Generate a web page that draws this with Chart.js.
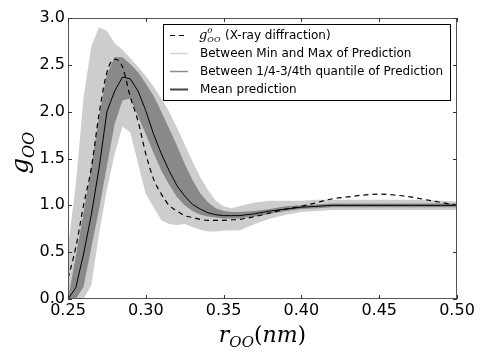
<!DOCTYPE html>
<html>
<head>
<meta charset="utf-8">
<script src="https://cdn.jsdelivr.net/npm/chart.js@4.4.0/dist/chart.umd.min.js"></script>
<style>
html, body { margin: 0; padding: 0; background: #fff; }
</style>
</head>
<body>
<canvas id="myChart" width="485" height="363"></canvas>
<script>
// r_OO in nm
const rValues = [0.25, 0.255, 0.26, 0.265, 0.27, 0.275, 0.28, 0.285, 0.29, 0.295, 0.30, 0.305, 0.31, 0.315, 0.32, 0.325, 0.33, 0.335, 0.34, 0.345, 0.35, 0.355, 0.36, 0.37, 0.38, 0.39, 0.40, 0.41, 0.42, 0.43, 0.44, 0.45, 0.46, 0.47, 0.48, 0.49, 0.50]

const xrayValues = [0.22, 0.55, 1.00, 1.40, 1.98, 2.42, 2.56, 2.48, 2.16, 1.90, 1.55, 1.28, 1.12, 1.00, 0.94, 0.89, 0.87, 0.85, 0.84, 0.84, 0.84, 0.845, 0.85, 0.88, 0.92, 0.96, 0.99, 1.03, 1.07, 1.09, 1.11, 1.12, 1.11, 1.09, 1.06, 1.03, 1.00]
const meanValues = [0.00, 0.12, 0.48, 0.90, 1.40, 2.00, 2.22, 2.37, 2.35, 2.22, 2.01, 1.76, 1.55, 1.37, 1.21, 1.10, 1.01, 0.96, 0.92, 0.90, 0.89, 0.89, 0.89, 0.91, 0.94, 0.96, 0.98, 0.99, 1.00, 1.00, 1.00, 1.00, 1.00, 1.00, 1.00, 1.00, 1.00]
const q1Values = [0.00, 0.00, 0.13, 0.55, 0.96, 1.42, 1.87, 2.12, 2.14, 1.95, 1.76, 1.56, 1.37, 1.22, 1.09, 1.00, 0.94, 0.90, 0.88, 0.87, 0.86, 0.86, 0.86, 0.88, 0.91, 0.94, 0.96, 0.97, 0.98, 0.98, 0.98, 0.98, 0.98, 0.98, 0.98, 0.98, 0.98]
const q3Values = [0.00, 0.45, 0.92, 1.40, 1.95, 2.40, 2.58, 2.58, 2.51, 2.42, 2.30, 2.17, 2.00, 1.82, 1.64, 1.44, 1.27, 1.13, 1.03, 0.97, 0.94, 0.93, 0.93, 0.94, 0.96, 0.99, 1.00, 1.01, 1.02, 1.02, 1.02, 1.02, 1.02, 1.02, 1.02, 1.02, 1.02]
const minValues = [0.00, 0.00, 0.00, 0.15, 0.70, 1.17, 1.55, 1.84, 1.78, 1.45, 1.12, 0.98, 0.84, 0.80, 0.79, 0.80, 0.77, 0.74, 0.72, 0.72, 0.73, 0.73, 0.73, 0.80, 0.86, 0.90, 0.93, 0.94, 0.95, 0.95, 0.95, 0.95, 0.95, 0.95, 0.95, 0.95, 0.95]
const maxValues = [0.55, 1.22, 2.15, 2.70, 2.90, 2.86, 2.73, 2.66, 2.57, 2.48, 2.38, 2.27, 2.14, 2.00, 1.83, 1.65, 1.47, 1.30, 1.16, 1.05, 0.99, 0.97, 0.99, 1.03, 1.05, 1.05, 1.05, 1.06, 1.06, 1.06, 1.06, 1.06, 1.06, 1.06, 1.06, 1.05, 1.04]

const xTicks = [0.25, 0.30, 0.35, 0.40, 0.45, 0.50]
const yTicks = [0.0, 0.5, 1.0, 1.5, 2.0, 2.5, 3.0]

const LIGHT = "#cdcdcd"
const DARK = "#898989"

function pts(ys) {
	return rValues.map((r, i) => ({ x: r, y: ys[i] }))
}

function band(ys, fillTo, color, order) {
	return {
		data: pts(ys),
		borderWidth: 0,
		borderColor: color,
		backgroundColor: color,
		pointRadius: 0,
		tension: 0,
		fill: fillTo,
		order: order
	}
}

// draw a run of text pieces (for the math labels)
function drawPieces(ctx, pieces, x, y) {
	let cx = x
	pieces.forEach(p => {
		ctx.font = p.font
		ctx.fillText(p.t, cx + (p.dx || 0), y + (p.dy || 0))
		if (!p.noAdvance) cx += ctx.measureText(p.t).width + (p.dx || 0)
	})
	return cx - x
}

function piecesWidth(ctx, pieces) {
	let w = 0
	pieces.forEach(p => {
		ctx.font = p.font
		if (!p.noAdvance) w += ctx.measureText(p.t).width + (p.dx || 0)
	})
	return w
}

const SERIF_I = (s) => `italic ${s}px "DejaVu Serif"`
const SERIF = (s) => `${s}px "DejaVu Serif"`

const decorPlugin = {
	id: "decor",
	afterDraw(chart) {
		const ctx = chart.ctx
		const a = chart.chartArea
		const xs = chart.scales.x
		const ys = chart.scales.y
		ctx.save()

		// frame
		ctx.strokeStyle = "#555"
		ctx.lineWidth = 1
		ctx.strokeRect(a.left + 0.5, a.top + 0.5, a.right - a.left - 1, a.bottom - a.top - 1)

		// inward ticks on all four sides
		ctx.strokeStyle = "#333"
		ctx.beginPath()
		xTicks.forEach(v => {
			const px = Math.round(xs.getPixelForValue(v)) + 0.5
			ctx.moveTo(px, a.bottom)
			ctx.lineTo(px, a.bottom - 4)
			ctx.moveTo(px, a.top)
			ctx.lineTo(px, a.top + 4)
		})
		yTicks.forEach(v => {
			const py = Math.round(ys.getPixelForValue(v)) + 0.5
			ctx.moveTo(a.left, py)
			ctx.lineTo(a.left + 4, py)
			ctx.moveTo(a.right, py)
			ctx.lineTo(a.right - 4, py)
		})
		ctx.stroke()

		// legend
		const lx = 163, ly = 24, lw = 287, lh = 76
		ctx.fillStyle = "#fff"
		ctx.fillRect(lx, ly, lw, lh)
		ctx.strokeStyle = "#000"
		ctx.strokeRect(lx + 0.5, ly + 0.5, lw, lh)

		const rows = [35, 53, 71, 89]
		const samples = [
			{ color: "#000", width: 1.2, dash: [5, 4] },
			{ color: "#d4d4d4", width: 1.5, dash: [] },
			{ color: "#8c8c8c", width: 1.5, dash: [] },
			{ color: "#444", width: 2, dash: [] }
		]
		samples.forEach((s, i) => {
			ctx.beginPath()
			ctx.setLineDash(s.dash)
			ctx.strokeStyle = s.color
			ctx.lineWidth = s.width
			ctx.moveTo(170, rows[i] + 0.5)
			ctx.lineTo(188, rows[i] + 0.5)
			ctx.stroke()
		})
		ctx.setLineDash([])

		ctx.fillStyle = "#000"
		ctx.textBaseline = "alphabetic"
		ctx.textAlign = "left"
		const tf = '12px "DejaVu Sans"'
		const base = 4
		drawPieces(ctx, [
			{ t: "g", font: SERIF_I(13) },
			{ t: "0", font: SERIF_I(8), dy: -6, noAdvance: true },
			{ t: "OO", font: SERIF_I(8), dy: 3 }
		], 199, rows[0] + base)
		ctx.font = tf
		ctx.fillText("(X-ray diffraction)", 225, rows[0] + base)
		ctx.fillText("Between Min and Max of Prediction", 200, rows[1] + base)
		ctx.fillText("Between 1/4-3/4th quantile of Prediction", 200, rows[2] + base)
		ctx.fillText("Mean prediction", 200, rows[3] + base)

		// x axis title: r_OO(nm)
		const xt = [
			{ t: "r", font: SERIF_I(22) },
			{ t: "OO", font: SERIF_I(15), dy: 5 },
			{ t: "(", font: SERIF(22) },
			{ t: "nm", font: SERIF_I(22) },
			{ t: ")", font: SERIF(22) }
		]
		const xw = piecesWidth(ctx, xt)
		drawPieces(ctx, xt, (a.left + a.right) / 2 - xw / 2, 342)

		// y axis title: g_OO
		const yt = [
			{ t: "g", font: SERIF_I(25) },
			{ t: "OO", font: SERIF_I(16), dy: 6 }
		]
		const yw = piecesWidth(ctx, yt)
		ctx.translate(28, 153)
		ctx.rotate(-Math.PI / 2)
		drawPieces(ctx, yt, -yw / 2, 0)

		ctx.restore()
	}
}

new Chart("myChart", {
	type: "line",
	data: {
		datasets: [
			{ label: "xray", data: pts(xrayValues), borderColor: "#000", borderWidth: 1.2, borderDash: [5, 4], pointRadius: 0, fill: false, cubicInterpolationMode: "monotone", order: 0 },
			{ label: "mean", data: pts(meanValues), borderColor: "#000", borderWidth: 1, pointRadius: 0, fill: false, tension: 0, order: 1 },
			band(q3Values, 3, DARK, 2),
			band(q1Values, false, DARK, 3),
			band(maxValues, 5, LIGHT, 4),
			band(minValues, false, LIGHT, 5)
		]
	},
	options: {
		responsive: false,
		animation: false,
		events: [],
		layout: { padding: { left: 0, right: 28, top: 18, bottom: 0 } },
		plugins: {
			legend: { display: false },
			tooltip: { enabled: false },
			filler: { propagate: false }
		},
		scales: {
			x: {
				type: "linear",
				min: 0.25,
				max: 0.5,
				afterBuildTicks: (s) => { s.ticks = xTicks.map(v => ({ value: v })) },
				afterFit: (s) => { s.height = 64 },
				grid: { display: false, drawTicks: false },
				border: { display: false },
				ticks: {
					color: "#000",
					padding: 2,
					maxRotation: 0,
					font: { family: "DejaVu Sans", size: 16 },
					callback: (v) => v.toFixed(2)
				}
			},
			y: {
				type: "linear",
				min: 0,
				max: 3,
				afterBuildTicks: (s) => { s.ticks = yTicks.map(v => ({ value: v })) },
				afterFit: (s) => { s.width = 68 },
				grid: { display: false, drawTicks: false },
				border: { display: false },
				ticks: {
					color: "#000",
					padding: 3,
					font: { family: "DejaVu Sans", size: 16 },
					callback: (v) => v.toFixed(1)
				}
			}
		}
	},
	plugins: [decorPlugin]
})
</script>
</body>
</html>
